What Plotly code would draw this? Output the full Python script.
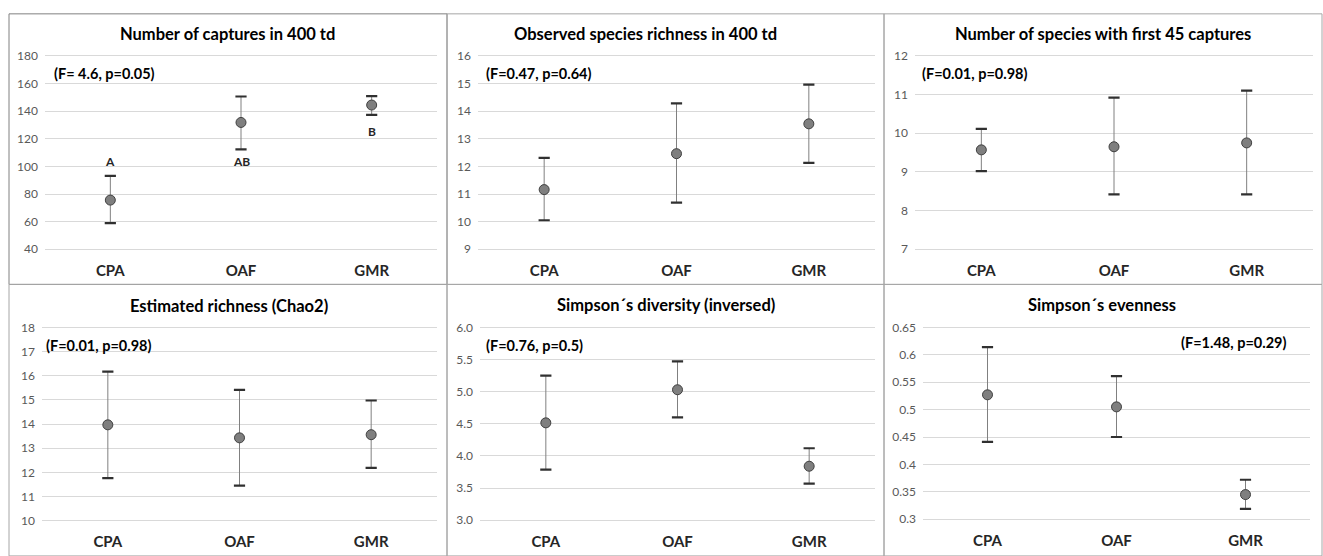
import plotly.graph_objects as go

# ---------------- data ----------------
categories = ["CPA", "OAF", "GMR"]

titles = [
    "Number of captures in 400 td",
    "Observed species richness in 400 td",
    "Number of species with first 45 captures",
    "Estimated richness (Chao2)",
    "Simpson´s diversity (inversed)",
    "Simpson´s evenness",
]
stats_text = [
    "(F= 4.6, p=0.05)",
    "(F=0.47, p=0.64)",
    "(F=0.01, p=0.98)",
    "(F=0.01, p=0.98)",
    "(F=0.76, p=0.5)",
    "(F=1.48, p=0.29)",
]

captures_mean = [75.6, 131.8, 144.4]
captures_upper = [93.1, 150.6, 150.8]
captures_lower = [58.9, 112.3, 137.3]

observed_mean = [11.16, 12.46, 13.54]
observed_upper = [12.31, 14.28, 14.96]
observed_lower = [10.05, 10.69, 12.13]

first45_mean = [9.57, 9.65, 9.75]
first45_upper = [10.11, 10.92, 11.10]
first45_lower = [9.02, 8.42, 8.42]

chao2_mean = [13.97, 13.43, 13.56]
chao2_upper = [16.18, 15.42, 14.98]
chao2_lower = [11.76, 11.45, 12.18]

simpson_div_mean = [4.515, 5.03, 3.84]
simpson_div_upper = [5.25, 5.47, 4.12]
simpson_div_lower = [3.786, 4.60, 3.57]

simpson_even_mean = [0.527, 0.505, 0.345]
simpson_even_upper = [0.614, 0.561, 0.372]
simpson_even_lower = [0.441, 0.450, 0.319]

# significance letters (panel 1)
letters = ["A", "AB", "B"]
letter_y = [103.6, 103.6, 125.4]

# y tick labels
ticks_captures = [40, 60, 80, 100, 120, 140, 160, 180]
ticks_observed = [9, 10, 11, 12, 13, 14, 15, 16]
ticks_first45 = [7, 8, 9, 10, 11, 12]
ticks_chao2 = [10, 11, 12, 13, 14, 15, 16, 17, 18]
ticks_simpson_div = [3.0, 3.5, 4.0, 4.5, 5.0, 5.5, 6.0]
ticklabels_simpson_div = ["3.0", "3.5", "4.0", "4.5", "5.0", "5.5", "6.0"]
ticks_simpson_even = [0.3, 0.35, 0.4, 0.45, 0.5, 0.55, 0.6, 0.65]
ticklabels_simpson_even = ["0.3", "0.35", "0.4", "0.45", "0.5", "0.55", "0.6", "0.65"]

panels = [
    (captures_mean, captures_upper, captures_lower, ticks_captures, [str(v) for v in ticks_captures]),
    (observed_mean, observed_upper, observed_lower, ticks_observed, [str(v) for v in ticks_observed]),
    (first45_mean, first45_upper, first45_lower, ticks_first45, [str(v) for v in ticks_first45]),
    (chao2_mean, chao2_upper, chao2_lower, ticks_chao2, [str(v) for v in ticks_chao2]),
    (simpson_div_mean, simpson_div_upper, simpson_div_lower, ticks_simpson_div, ticklabels_simpson_div),
    (simpson_even_mean, simpson_even_upper, simpson_even_lower, ticks_simpson_even, ticklabels_simpson_even),
]

# ---------------- layout geometry (pixels) ----------------
W, H = 1323, 556
FONT = "Lato, 'Open Sans', sans-serif"
EDGE_PAD = 3  # px of extra room so the edge gridlines are drawn


def px(x):
    return x / W


def py(y):
    return 1 - y / H


# plot-area boxes (where first / last gridline sit): x0, x1, y_top, y_bottom
plot_boxes = [
    (45, 437, 51.7, 248.3),
    (478, 875, 51.7, 248.3),
    (915, 1313, 51.7, 248.3),
    (42, 437, 328.0, 524.0),
    (480, 875, 327.7, 523.7),
    (923, 1310, 327.7, 522.7),
]
# title centres
title_pos = [(227, 29), (645, 29), (1103, 29), (229, 306), (666, 305), (1102, 305)]
# stats annotation (x, y, anchor)
stats_pos = [(52, 70, "left"), (484, 70, "left"), (920, 70, "left"),
             (44, 346, "left"), (484, 346, "left"), (1289, 343, "right")]
# panel frames
frames = [
    (9, 9, 447, 284, "#808080"),
    (447, 9, 884, 284, "#a6a6a6"),
    (884, 9, 1322, 284, "#a6a6a6"),
    (9, 284, 447, 560, "#a6a6a6"),
    (447, 284, 884, 560, "#a6a6a6"),
    (884, 284, 1322, 560, "#a6a6a6"),
]

fig = go.Figure()
layout = dict(
    width=W, height=H,
    margin=dict(l=0, r=0, t=0, b=0),
    paper_bgcolor="white", plot_bgcolor="white",
    showlegend=False,
    font=dict(family=FONT),
)
annotations = []
shapes = []

for i, (mean, upper, lower, tvals, ttext) in enumerate(panels):
    n = i + 1
    xa = "x" if n == 1 else f"x{n}"
    ya = "y" if n == 1 else f"y{n}"
    err_plus = [u - m for u, m in zip(upper, mean)]
    err_minus = [m - l for m, l in zip(mean, lower)]
    # stems
    fig.add_trace(go.Scatter(
        x=categories, y=mean, mode="markers", xaxis=xa, yaxis=ya,
        marker=dict(size=1, color="rgba(0,0,0,0)"),
        error_y=dict(type="data", array=err_plus, arrayminus=err_minus,
                     color="#808080", thickness=1, width=0),
        hoverinfo="skip",
    ))
    # caps
    fig.add_trace(go.Scatter(
        x=categories + categories, y=upper + lower, mode="markers",
        xaxis=xa, yaxis=ya,
        marker=dict(symbol="line-ew", size=8,
                    line=dict(width=2.2, color="#303030")),
        hoverinfo="skip",
    ))
    # means
    fig.add_trace(go.Scatter(
        x=categories, y=mean, mode="markers", xaxis=xa, yaxis=ya,
        marker=dict(size=10, color="#7f7f7f",
                    line=dict(width=1, color="#404040")),
    ))

    x0, x1, yt, yb = plot_boxes[i]
    span = tvals[-1] - tvals[0]
    pad = span * EDGE_PAD / (yb - yt)
    xkey = "xaxis" if n == 1 else f"xaxis{n}"
    ykey = "yaxis" if n == 1 else f"yaxis{n}"
    layout[xkey] = dict(
        domain=[px(x0), px(x1)], anchor=ya,
        type="category", range=[-0.5, 2.5],
        showgrid=False, zeroline=False, showline=False, ticks="",
        tickfont=dict(family=FONT, size=15, color="#262626", weight="bold"),
        ticklabelstandoff=8,
    )
    layout[ykey] = dict(
        domain=[py(yb + EDGE_PAD), py(yt - EDGE_PAD)], anchor=xa,
        range=[tvals[0] - pad, tvals[-1] + pad],
        tickmode="array", tickvals=tvals, ticktext=ttext,
        showgrid=True, gridcolor="#d9d9d9", gridwidth=1,
        zeroline=False, showline=False, ticks="",
        tickfont=dict(family=FONT, size=12, color="#595959"),
        ticklabelstandoff=6,
    )

    tx, ty = title_pos[i]
    annotations.append(dict(
        text=titles[i], x=px(tx), y=py(ty), xref="paper", yref="paper",
        xanchor="center", yanchor="middle", showarrow=False,
        font=dict(family=FONT, size=16.5, color="#000000", weight="bold"),
    ))
    sx, sy, anc = stats_pos[i]
    annotations.append(dict(
        text=stats_text[i], x=px(sx), y=py(sy), xref="paper", yref="paper",
        xanchor=anc, yanchor="middle", showarrow=False,
        font=dict(family=FONT, size=14.5, color="#000000", weight="bold"),
    ))

    fx0, fy0, fx1, fy1, fcol = frames[i]
    shapes.append(dict(
        type="rect", xref="paper", yref="paper",
        x0=px(fx0), x1=px(fx1), y0=py(fy1), y1=py(fy0),
        line=dict(color=fcol, width=1), fillcolor="rgba(0,0,0,0)", layer="below",
    ))

# significance letters on panel 1
for cat, lab, ly in zip(categories, letters, letter_y):
    annotations.append(dict(
        text=lab, x=cat, y=ly, xref="x", yref="y",
        xanchor="center", yanchor="middle", showarrow=False,
        font=dict(family=FONT, size=12, color="#262626", weight="bold"),
    ))

layout["annotations"] = annotations
layout["shapes"] = shapes
fig.update_layout(**layout)

fig.write_html("out.html")
